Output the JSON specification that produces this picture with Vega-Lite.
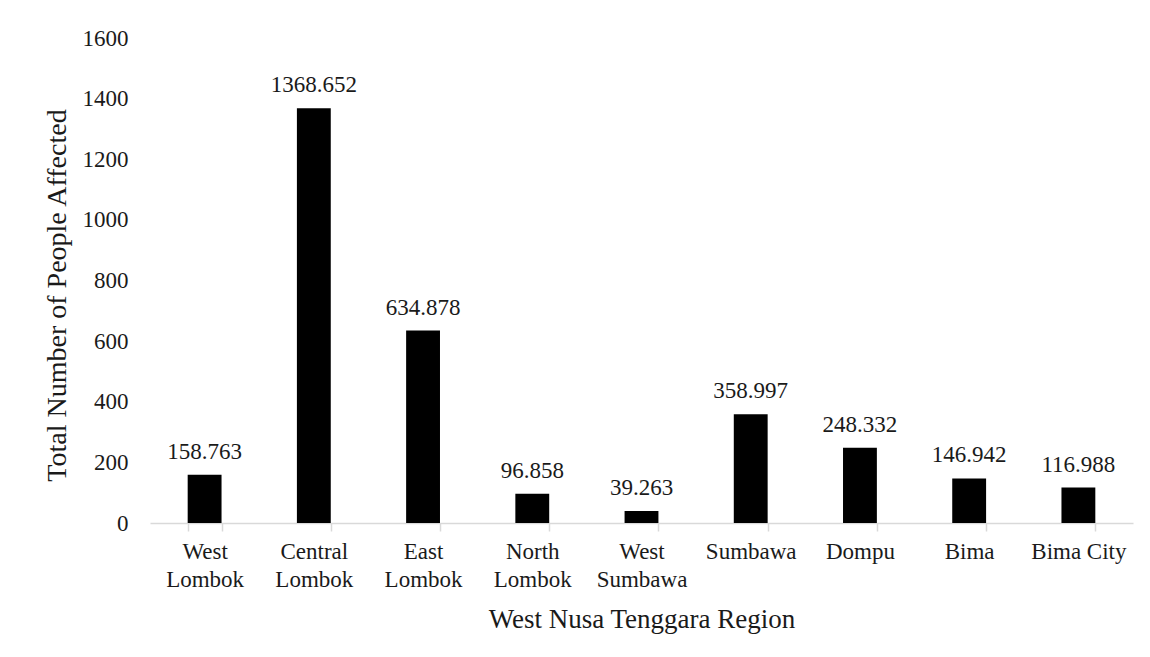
{
  "$schema": "https://vega.github.io/schema/vega-lite/v6.json",
  "width": 983,
  "height": 485,
  "autosize": {"type": "none"},
  "padding": {"left": 150, "top": 38, "right": 17, "bottom": 134},
  "background": "white",
  "config": {
    "view": {"stroke": null},
    "font": "Liberation Serif"
  },
  "data": {
    "values": [
      {"region": "West Lombok", "people": 158.763},
      {"region": "Central Lombok", "people": 1368.652},
      {"region": "East Lombok", "people": 634.878},
      {"region": "North Lombok", "people": 96.858},
      {"region": "West Sumbawa", "people": 39.263},
      {"region": "Sumbawa", "people": 358.997},
      {"region": "Dompu", "people": 248.332},
      {"region": "Bima", "people": 146.942},
      {"region": "Bima City", "people": 116.988}
    ]
  },
  "encoding": {
    "x": {
      "field": "region",
      "type": "nominal",
      "sort": null,
      "scale": {"paddingInner": 0.69, "paddingOuter": 0.345},
      "axis": {
        "title": "West Nusa Tenggara Region",
        "titleFont": "Liberation Serif",
        "titleFontSize": 27,
        "titleFontWeight": "normal",
        "titleColor": "#1a1a1a",
        "titleBaseline": "alphabetic",
        "titleY": 104,
        "labelAngle": 0,
        "labelFont": "Liberation Serif",
        "labelFontSize": 23,
        "labelColor": "#1a1a1a",
        "labelLineHeight": 28,
        "labelPadding": 9,
        "labelBaseline": "top",
        "labelExpr": "datum.label == 'Bima City' ? datum.label : split(datum.label, ' ')",
        "domainColor": "#d9d9d9",
        "domainWidth": 1.5,
        "tickColor": "#d9d9d9",
        "tickWidth": 1.5,
        "tickSize": 8,
        "tickBand": "extent",
        "grid": false
      }
    },
    "y": {
      "field": "people",
      "type": "quantitative",
      "scale": {"domain": [0, 1600], "nice": false},
      "axis": {
        "title": "Total Number of People Affected",
        "titleFont": "Liberation Serif",
        "titleFontSize": 28,
        "titleFontWeight": "normal",
        "titleColor": "#1a1a1a",
        "titleAngle": -90,
        "titleAlign": "center",
        "titleBaseline": "middle",
        "titleX": -93,
        "titleY": 257,
        "values": [0, 200, 400, 600, 800, 1000, 1200, 1400, 1600],
        "format": "d",
        "labelFont": "Liberation Serif",
        "labelFontSize": 23,
        "labelColor": "#1a1a1a",
        "labelPadding": 22,
        "ticks": false,
        "domain": false,
        "grid": false
      }
    }
  },
  "layer": [
    {"mark": {"type": "bar", "color": "#000000"}},
    {
      "mark": {
        "type": "text",
        "font": "Liberation Serif",
        "fontSize": 23,
        "color": "#1a1a1a",
        "baseline": "alphabetic",
        "dy": -16
      },
      "encoding": {
        "text": {"field": "people", "type": "quantitative", "format": ".3f"}
      }
    }
  ]
}
